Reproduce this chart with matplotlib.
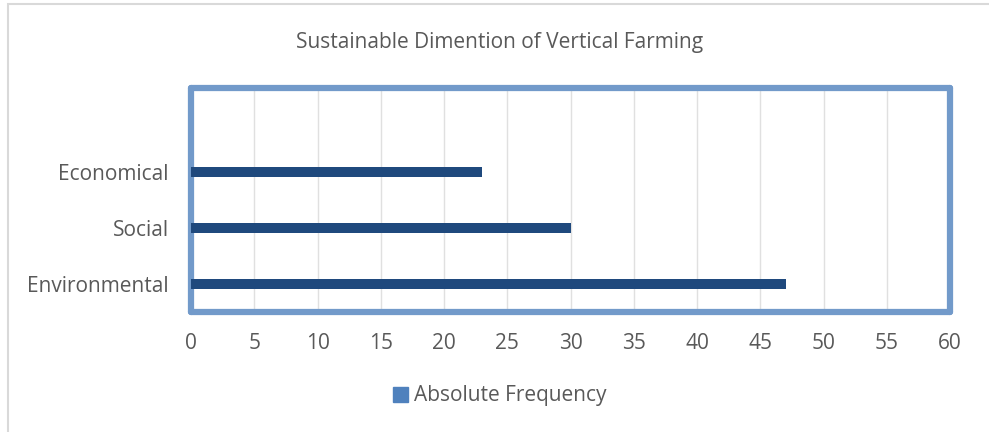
import numpy as np
import matplotlib.pyplot as plt
from matplotlib.patches import Patch, Rectangle

# data
categories = ["Environmental", "Social", "Economical"]
frequency = [47, 30, 23]
x_ticks = list(range(0, 61, 5))

plt.rcParams['font.family'] = ['Open Sans', 'DejaVu Sans']

fig = plt.figure(figsize=(9.89, 4.32), dpi=100)
ax = fig.add_axes([191/989, 1 - 312/432, (950 - 191)/989, (312 - 88)/432])

y = np.arange(len(categories))
ax.barh(y, frequency, height=0.19, color="#1F497D", zorder=3)

ax.set_xlim(0, 60)
ax.set_ylim(-0.5, 3.5)
ax.set_xticks(x_ticks)
ax.set_yticks(y)
ax.set_yticklabels(categories)
ax.tick_params(axis='both', length=0, labelsize=15, labelcolor="#595959")
ax.tick_params(axis='x', pad=15)
ax.tick_params(axis='y', pad=16)
ax.grid(axis='x', color="#E0E0E0", linewidth=1, zorder=0)

for s in ax.spines.values():
    s.set_color("#729ACA")
    s.set_linewidth(4.5)
    s.set_capstyle('round')
    s.set_joinstyle('round')

fig.suptitle("Sustainable Dimention of Vertical Farming", x=500/989, y=1 - 32/432,
             fontsize=15, color="#595959")

leg = fig.legend(handles=[Patch(color="#4F81BD", label="Absolute Frequency")],
                 loc='center', bbox_to_anchor=(500/989, 1 - 396/432),
                 frameon=False, fontsize=15, handlelength=0.7, handleheight=0.7,
                 handletextpad=0.3)
for t in leg.get_texts():
    t.set_color("#595959")

# outer chart frame
fig.patches.append(Rectangle((8/989, -0.1), 1.2, 1 - 4/432 + 0.1, transform=fig.transFigure,
                             fill=False, edgecolor="#D9D9D9", linewidth=1.5))

fig.savefig("out.png", dpi=100)
